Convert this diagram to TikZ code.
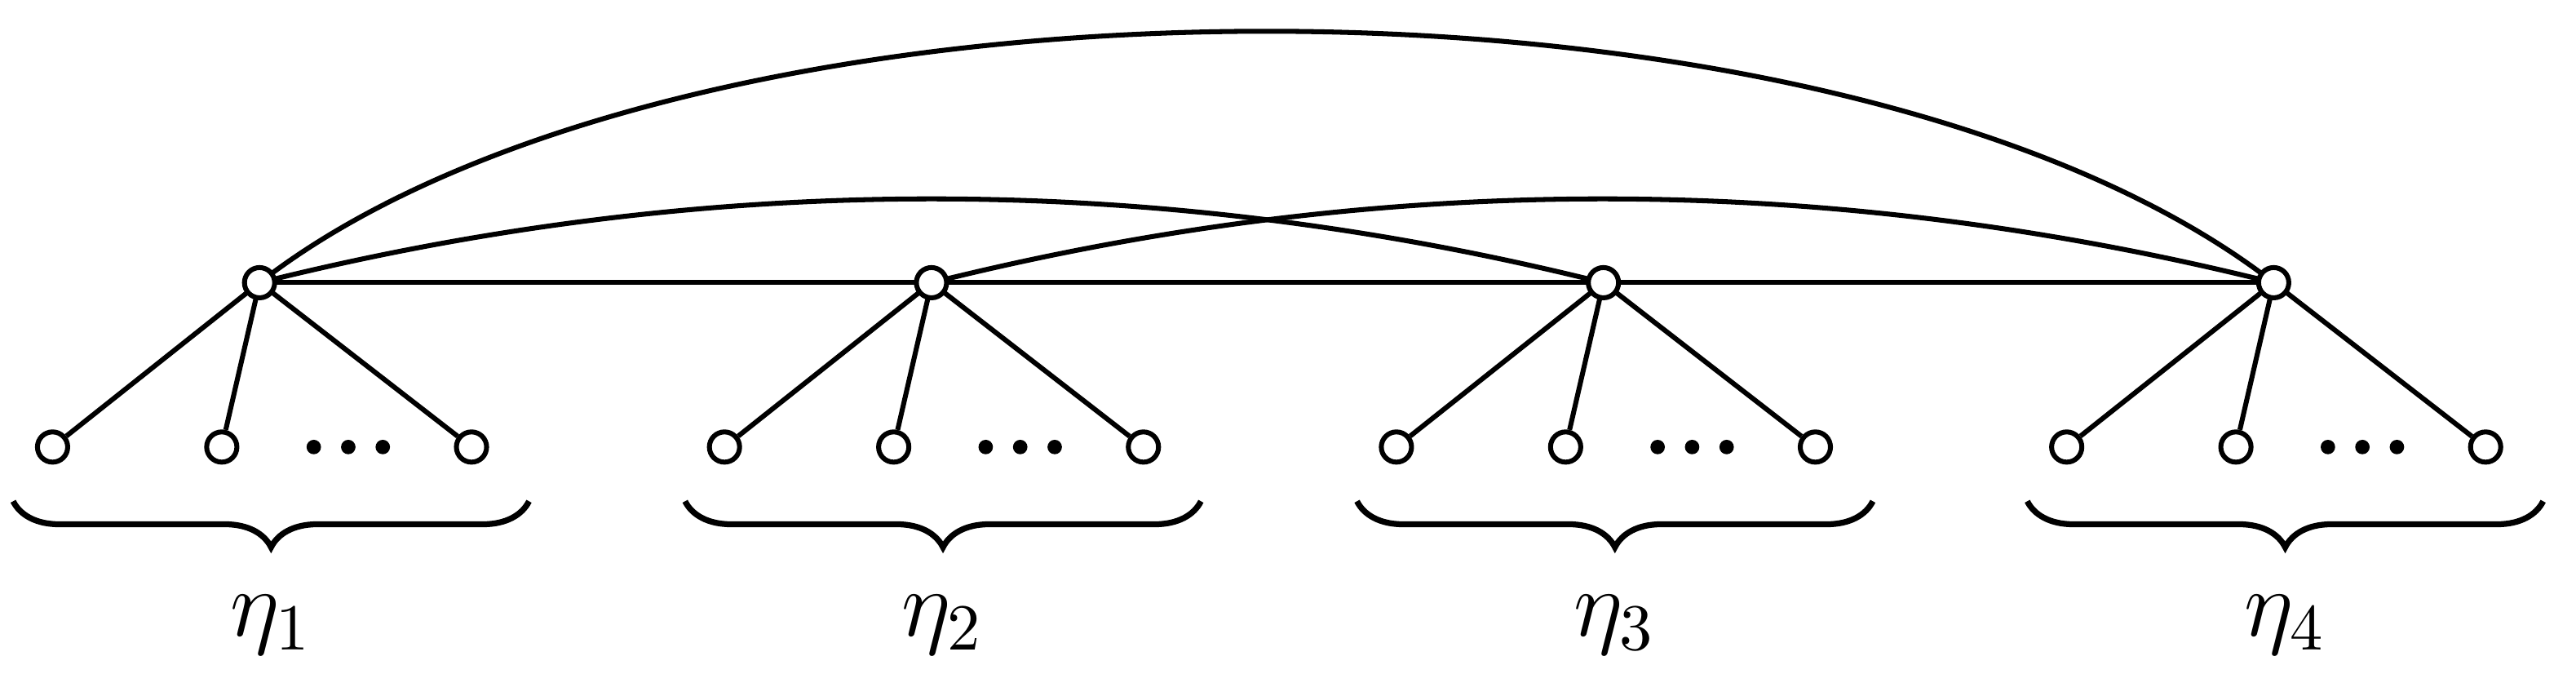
\documentclass[tikz,border=0pt]{standalone}
\usetikzlibrary{decorations.pathreplacing}
\begin{document}
\begin{tikzpicture}[x={(0.25pt,0)},y={(0,-0.25pt)},line width=0.75pt,
  vtx/.style={circle,draw,fill=white,inner sep=0pt,minimum size=4.6pt,line width=0.75pt},
  br/.style={decorate,decoration={brace,mirror,amplitude=7pt},line width=0.9pt}]
\useasboundingbox (0,0) rectangle (1568,410);
\foreach \i/\x in {1/158,2/567,3/976,4/1384}{
  \coordinate (h\i) at (\x,172);
}
\draw (h1) .. controls (430,104) and (704,104) .. (h3);
\draw (h2) .. controls (839,104) and (1112,104) .. (h4);
\draw (h1) .. controls (420,-32) and (1122,-32) .. (h4);
\draw (h1) -- (h2) -- (h3) -- (h4);
\foreach \i/\x in {1/158,2/567,3/976,4/1384}{
  \node[vtx] (a\i) at (\x-126,272) {};
  \node[vtx] (b\i) at (\x-23,272) {};
  \node[vtx] (c\i) at (\x+129,272) {};
  \fill (\x+33,272) circle (1.1pt);
  \fill (\x+54,272) circle (1.1pt);
  \fill (\x+75,272) circle (1.1pt);
  \draw (h\i) -- (a\i); \draw (h\i) -- (b\i); \draw (h\i) -- (c\i);
  \node[vtx] (v\i) at (h\i) {};
  \draw[br] (\x-150,305) -- (\x+164,305);
  \node (l\i) at (\x+7,380) {\Large$\eta_{\i}$};
}
\end{tikzpicture}
\end{document}
